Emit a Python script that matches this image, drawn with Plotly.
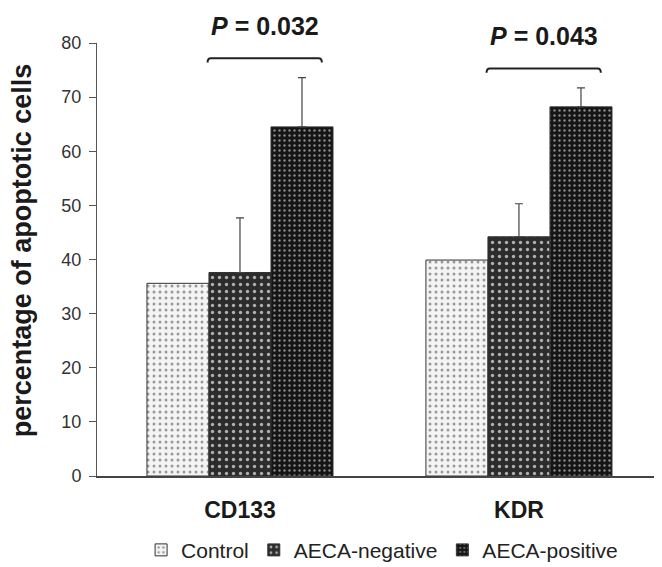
import plotly.graph_objects as go

categories = ["CD133", "KDR"]
series_names = ["Control", "AECA-negative", "AECA-positive"]
control = [35.6, 39.9]
aeca_negative = [37.6, 44.2]
aeca_positive = [64.5, 68.2]
err_negative = [10.1, 6.1]
err_positive = [9.1, 3.5]
p_values = ["0.032", "0.043"]
y_title = "percentage of apoptotic cells"

FONT = "Liberation Sans, Arial, Helvetica, sans-serif"
YMAX = 80
xpos = list(range(len(categories)))
bargap = 0.333
bw = (1 - bargap) / 3

styles = [
    dict(bg="#f4f4f4", fg="#9a9a9a", size=6, sol=0.2),
    dict(bg="#2c2c2c", fg="#b0b0b0", size=7, sol=0.18),
    dict(bg="#151515", fg="#8a8a8a", size=5, sol=0.18),
]
values = [control, aeca_negative, aeca_positive]
errors = [None, err_negative, err_positive]

fig = go.Figure()
for name, vals, err, st in zip(series_names, values, errors, styles):
    kw = {}
    if err is not None:
        kw["error_y"] = dict(type="data", symmetric=False, array=err,
                             arrayminus=[0] * len(err), color="#444",
                             thickness=1.2, width=4)
    fig.add_trace(go.Bar(
        x=xpos, y=vals, name=name,
        marker=dict(color=st["bg"],
                    line=dict(color="#333", width=1),
                    pattern=dict(shape=".", bgcolor=st["bg"], fgcolor=st["fg"],
                                 size=st["size"], solidity=st["sol"],
                                 fillmode="replace")),
        **kw))

shapes = []
annotations = []
for i, p in enumerate(p_values):
    top = max(aeca_negative[i] + err_negative[i], aeca_positive[i] + err_positive[i])
    yb = top + 3.6
    x0 = xpos[i] - bw / 2 - 0.005
    x1 = xpos[i] + 1.5 * bw - 0.04
    tip = 0.8
    shapes.append(dict(type="path", xref="x", yref="y",
                       path=f"M{x0},{yb - tip} Q{x0},{yb} {x0 + 0.012},{yb} L{x1 - 0.012},{yb} Q{x1},{yb} {x1},{yb - tip}",
                       line=dict(color="#222", width=2)))
    annotations.append(dict(x=(x0 + x1) / 2, y=(yb + 6) / YMAX, xref="x", yref="paper",
                            yanchor="middle",
                            text=f"<b><i>P</i> = {p}</b>", showarrow=False,
                            font=dict(family=FONT, size=25, color="#1a1a1a")))

annotations.append(dict(x=-0.133, y=0.522, xref="paper", yref="paper",
                        xanchor="center", yanchor="middle", textangle=-90,
                        text=f"<b>{y_title}</b>", showarrow=False,
                        font=dict(family=FONT, size=27, color="#1a1a1a")))

# page body adds an 8px offset; figure is sized to compensate
fig.update_layout(
    width=654, height=559,
    margin=dict(l=89, r=3, t=35, b=91),
    paper_bgcolor="white", plot_bgcolor="white",
    barmode="group", bargap=bargap, bargroupgap=0,
    showlegend=True,
    legend=dict(orientation="h", xref="container", x=0.572, xanchor="center",
                yref="container", y=0.03, yanchor="middle",
                font=dict(family=FONT, size=21, color="#222"), itemwidth=30,
                traceorder="normal"),
    xaxis=dict(range=[-0.5125, 1.502], tickvals=xpos, ticktext=categories,
               showline=True, linecolor="#444", linewidth=1.5, ticks="",
               showgrid=False, zeroline=False, ticklabelstandoff=13, automargin=False,
               tickfont=dict(family=FONT, size=23, color="#1a1a1a", weight="bold")),
    yaxis=dict(range=[0, YMAX], dtick=10, showline=True, linecolor="#555", linewidth=1,
               ticks="outside", ticklen=7, tickcolor="#555", showgrid=False,
               zeroline=False, ticklabelstandoff=4, automargin=False,
               tickfont=dict(family=FONT, size=18, color="#333")),
    shapes=shapes, annotations=annotations,
)

fig.write_html("out.html")
